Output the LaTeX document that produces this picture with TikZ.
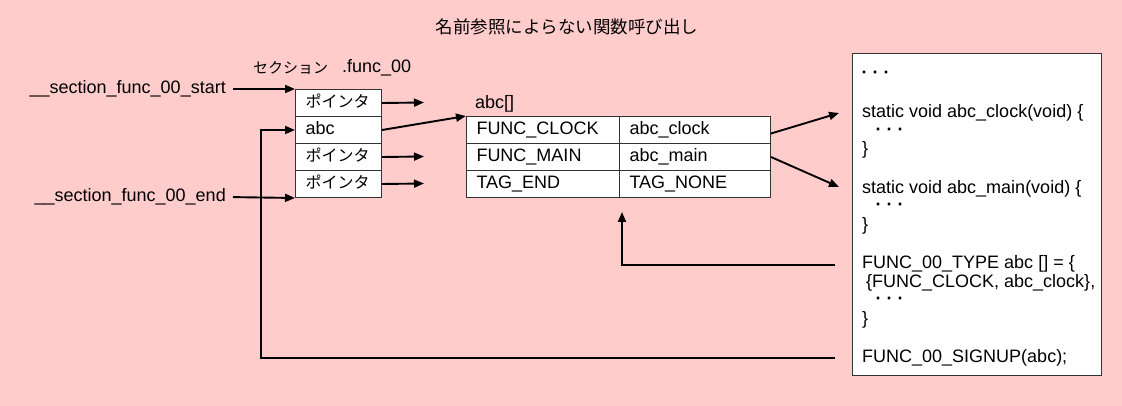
\documentclass[tikz,border=0pt]{standalone}
\usepackage{fontspec}
\setmainfont{Liberation Sans}
\newfontfamily\cjk{Noto Sans CJK JP}
\usetikzlibrary{arrows.meta,calc}
\newcommand{\tridots}{\textbf{·\kern5pt·\kern5pt·}}
\begin{document}
\begin{tikzpicture}[x=1pt,y=-1pt,
  every node/.style={font=\fontsize{18}{21}\selectfont},
  jp/.style={font=\fontsize{16}{19}\selectfont\cjk},
  arr/.style={line width=1.9pt,-{Triangle[length=10pt,width=8pt]}},
  cell/.style={draw=black!80,line width=1pt,fill=white,inner xsep=10pt,inner ysep=0pt,
    minimum height=27pt,text width=#1,align=left,anchor=north west,
    text height=13pt,text depth=4pt},
  code/.style={anchor=base west,inner sep=0pt}
]
\fill[fill={rgb,255:red,255;green,204;blue,204}] (0,0) rectangle (1122,406);
\useasboundingbox (0,0) rectangle (1122,406);

% title
\node[font=\fontsize{17.5}{20}\selectfont\cjk] (title) at (567,27) {名前参照によらない関数呼び出し};

% section labels
\node[font=\fontsize{15}{18}\selectfont\cjk,anchor=west,inner sep=0pt] (seclbl) at (253,68) {セクション};
\node[anchor=west,inner sep=0pt] (funclbl) at (342,68) {.func\_00};

% section rows
\node[cell=66pt,jp] (s1) at (295,89) {ポインタ};
\node[cell=66pt] (s2) at (295,116) {abc};
\node[cell=66pt,jp] (s3) at (295,143) {ポインタ};
\node[cell=66pt,jp] (s4) at (295,170) {ポインタ};

% start/end labels
\node[anchor=east,inner sep=0pt] (startlbl) at (226,89) {\_\_section\_func\_00\_start};
\node[anchor=east,inner sep=0pt] (endlbl) at (226,197) {\_\_section\_func\_00\_end};
\draw[arr,shorten <=7pt] (startlbl.east) -- (s1.north west);
\draw[arr,shorten <=7pt] (endlbl.east) -- (s4.south west);

% pointer arrows
\coordinate (p1) at (424,102.5);
\coordinate (p3) at (424,156.5);
\coordinate (p4) at (424,183.5);
\draw[arr] (s1.east) -- (p1);
\draw[arr] (s3.east) -- (p3);
\draw[arr] (s4.east) -- (p4);

% abc[] table
\node[anchor=west,inner sep=0pt] (abclbl) at (475,104) {abc[]};
\node[cell=133pt] (t11) at (466,116) {FUNC\_CLOCK};
\node[cell=131pt] (t12) at (619,116) {abc\_clock};
\node[cell=133pt] (t21) at (466,143) {FUNC\_MAIN};
\node[cell=131pt] (t22) at (619,143) {abc\_main};
\node[cell=133pt] (t31) at (466,170) {TAG\_END};
\node[cell=131pt] (t32) at (619,170) {TAG\_NONE};

\draw[arr] (s2.east) -- (t11.north west);

% code box
\node[draw=black!80,line width=1pt,fill=white,minimum width=249pt,minimum height=322pt,
  anchor=north west,inner sep=0pt] (codebox) at (852,53) {};
\node[code] (c1) at (861.5,78.5) {\tridots};
\node[code] (c2) at (862,118) {static void abc\_clock(void) \{};
\node[code] (c3) at (875.5,135.5) {\tridots};
\node[code] (c4) at (862,155) {\}};
\node[code] (c5) at (862,193.5) {static void abc\_main(void) \{};
\node[code] (c6) at (875.5,210.5) {\tridots};
\node[code] (c7) at (862,230.5) {\}};
\node[code] (c8) at (862,269) {FUNC\_00\_TYPE abc [] = \{};
\node[code] (c9) at (866,287.5) {\{FUNC\_CLOCK, abc\_clock\},};
\node[code] (c10) at (875.5,304) {\tridots};
\node[code] (c11) at (862,324.5) {\}};
\node[code] (c12) at (862,362) {FUNC\_00\_SIGNUP(abc);};

% table to code arrows
\coordinate (q1) at (839,113);
\coordinate (q2) at (839,187);
\draw[arr] ([yshift=-3.5pt]t12.east) -- (q1);
\draw[arr] (t22.east) -- (q2);

% return arrows
\coordinate (typeend) at (835,265);
\coordinate (tret) at (622,212);
\draw[arr] (typeend) -| (tret);
\coordinate (sigend) at (835,358);
\draw[arr] (sigend) -| ([xshift=-34pt]s2.west) -- (s2.west);
\end{tikzpicture}
\end{document}
